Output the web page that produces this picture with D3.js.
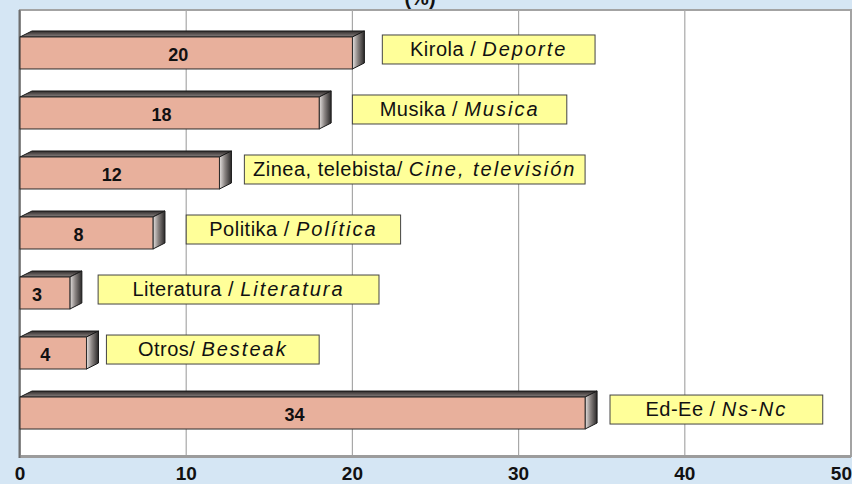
<!DOCTYPE html>
<html>
<head>
<meta charset="utf-8">
<script src="https://cdn.jsdelivr.net/npm/d3@7"></script>
<style>
  html, body { margin: 0; padding: 0; background: #d5e6f4; }
  svg { display: block; font-family: "Liberation Sans", Arial, sans-serif; }
</style>
</head>
<body>
<div id="chart"></div>
<script>
// Categories (top to bottom), shares in %
const categories = ['Kirola', 'Musika', 'Zinea', 'Politika', 'Literatura', 'Otros', 'Ed-Ee'];
const values = [20, 18, 12, 8, 3, 4, 34];
const labelMain = ['Kirola / ', 'Musika / ', 'Zinea, telebista/ ', 'Politika / ', 'Literatura / ', 'Otros/ ', 'Ed-Ee / '];
const labelItalic = ['Deporte', 'Musica', 'Cine, televisión', 'Política', 'Literatura', 'Besteak', 'Ns-Nc'];
const xTicks = [0, 10, 20, 30, 40, 50];

// Callout boxes, start/end in axis units as placed on the original
const noteSpan = [[21.8, 34.6], [20.0, 32.9], [13.5, 34.0], [10.0, 22.9], [4.7, 21.6], [5.2, 18.0], [35.5, 48.3]];

const W = 852, H = 484;
const plot = { left: 20, right: 851, top: 10, bottom: 456 };
const depth = { dx: 12, dy: -6 };

const svg = d3.select('#chart').append('svg')
    .attr('width', W)
    .attr('height', H);

const defs = svg.append('defs');

const sideGrad = defs.append('linearGradient').attr('id', 'side-grad');
sideGrad.append('stop').attr('offset', '0%').attr('stop-color', '#e6e2e0');
sideGrad.append('stop').attr('offset', '45%').attr('stop-color', '#8a8482');
sideGrad.append('stop').attr('offset', '100%').attr('stop-color', '#2a2828');

const topGrad = defs.append('linearGradient').attr('id', 'top-grad')
    .attr('x1', 0).attr('y1', 1).attr('x2', 0).attr('y2', 0);
topGrad.append('stop').attr('offset', '0%').attr('stop-color', '#8a8280');
topGrad.append('stop').attr('offset', '100%').attr('stop-color', '#2e2a2a');

const x = d3.scaleLinear()
    .domain([0, 50])
    .range([plot.left, plot.right]);

const y = d3.scaleBand()
    .domain(categories)
    .range([23, 443])
    .paddingInner(0.467)
    .paddingOuter(0.233);

// Title (mostly cut off at the top edge, as in the original)
svg.append('text')
    .attr('x', 420)
    .attr('y', 5)
    .attr('text-anchor', 'middle')
    .attr('font-size', '20px')
    .attr('font-weight', 'bold')
    .attr('fill', '#111')
    .text('(%)');

// Plot area
svg.append('rect')
    .attr('x', plot.left)
    .attr('y', plot.top)
    .attr('width', plot.right - plot.left)
    .attr('height', plot.bottom - plot.top)
    .attr('fill', '#fff')
    .attr('stroke', '#a3a3a3')
    .attr('stroke-width', 2);

// Grid lines
svg.append('g')
    .selectAll('line')
    .data(xTicks.slice(1, -1))
    .join('line')
    .attr('x1', d => x(d))
    .attr('x2', d => x(d))
    .attr('y1', plot.top)
    .attr('y2', plot.bottom)
    .attr('stroke', '#a8a8a8')
    .attr('stroke-width', 1.2);

// Floor / wall edges
svg.append('line')
    .attr('x1', plot.left).attr('x2', plot.right)
    .attr('y1', plot.bottom + 0.5).attr('y2', plot.bottom + 0.5)
    .attr('stroke', '#9c9c9c')
    .attr('stroke-width', 3);
svg.append('line')
    .attr('x1', plot.left - 0.5).attr('x2', plot.left - 0.5)
    .attr('y1', plot.top).attr('y2', plot.bottom + 2)
    .attr('stroke', '#6e6e6e')
    .attr('stroke-width', 2);

// Bars
const bars = svg.append('g')
    .selectAll('g')
    .data(categories.map((c, i) => ({ cat: c, value: values[i] })))
    .join('g');

const bw = y.bandwidth();

// top face
bars.append('path')
    .attr('d', d => {
        const x0 = x(0), x1 = x(d.value), y0 = y(d.cat);
        return `M${x0},${y0} L${x0 + depth.dx},${y0 + depth.dy} L${x1 + depth.dx},${y0 + depth.dy} L${x1},${y0} Z`;
    })
    .attr('fill', 'url(#top-grad)')
    .attr('stroke', '#1a1a1a')
    .attr('stroke-width', 1)
    .attr('stroke-linejoin', 'round');

// side face
bars.append('path')
    .attr('d', d => {
        const x1 = x(d.value), y0 = y(d.cat);
        return `M${x1},${y0} L${x1 + depth.dx},${y0 + depth.dy} L${x1 + depth.dx},${y0 + bw + depth.dy} L${x1},${y0 + bw} Z`;
    })
    .attr('fill', 'url(#side-grad)')
    .attr('stroke', '#1a1a1a')
    .attr('stroke-width', 1)
    .attr('stroke-linejoin', 'round');

// front face
bars.append('rect')
    .attr('x', x(0))
    .attr('y', d => y(d.cat))
    .attr('width', d => x(d.value) - x(0))
    .attr('height', bw)
    .attr('fill', '#e8b09c')
    .attr('stroke', '#2a2a2a')
    .attr('stroke-width', 1);

// value labels
bars.append('text')
    .attr('x', d => (x(0) + x(d.value)) / 2 - 8)
    .attr('y', d => y(d.cat) + bw / 2 + 8)
    .attr('text-anchor', 'middle')
    .attr('font-size', '18px')
    .attr('font-weight', 'bold')
    .attr('fill', '#111')
    .text(d => d.value);

// Callout boxes
const notes = svg.append('g')
    .selectAll('g')
    .data(categories.map((c, i) => ({ cat: c, span: noteSpan[i], main: labelMain[i], ital: labelItalic[i] })))
    .join('g');

notes.append('rect')
    .attr('x', d => x(d.span[0]))
    .attr('y', d => y(d.cat) - 2)
    .attr('width', d => x(d.span[1]) - x(d.span[0]))
    .attr('height', 29)
    .attr('fill', '#ffff99')
    .attr('stroke', '#444')
    .attr('stroke-width', 1);

const noteText = notes.append('text')
    .attr('x', d => (x(d.span[0]) + x(d.span[1])) / 2)
    .attr('y', d => y(d.cat) + 19)
    .attr('text-anchor', 'middle')
    .attr('font-size', '20px')
    .attr('fill', '#111');

noteText.append('tspan')
    .attr('letter-spacing', '0.5px')
    .text(d => d.main);
noteText.append('tspan')
    .attr('font-style', 'italic')
    .attr('letter-spacing', '2px')
    .text(d => d.ital);

// X axis labels (the last one is kept inside the right edge)
svg.append('g')
    .selectAll('text')
    .data(xTicks)
    .join('text')
    .attr('x', d => d === 50 ? W : x(d))
    .attr('y', 480)
    .attr('text-anchor', d => d === 50 ? 'end' : 'middle')
    .attr('font-size', '19px')
    .attr('font-weight', 'bold')
    .attr('fill', '#111')
    .text(d => d);
</script>
</body>
</html>
